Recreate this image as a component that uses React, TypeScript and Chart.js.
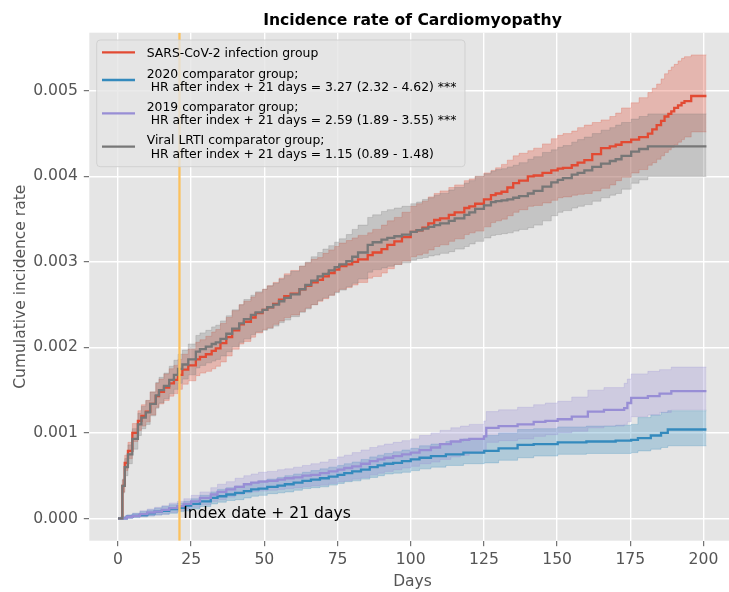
import React, { useEffect, useRef } from "react";
import { Chart, registerables } from "chart.js";

Chart.register(...registerables);

// ---------- data ----------
const TITLE = "Incidence rate of Cardiomyopathy";
const X_LABEL = "Days";
const Y_LABEL = "Cumulative incidence rate";
const X_TICKS = [0, 25, 50, 75, 100, 125, 150, 175, 200];
const Y_TICKS = [0, 0.001, 0.002, 0.003, 0.004, 0.005];
const INDEX_DAY = 21;
const ANNOT_TEXT = "Index date + 21 days";
const ANNOT_X = 22.3;
const ANNOT_Y = 0;

const LEGEND_LABELS = [
  ["SARS-CoV-2 infection group"],
  ["2020 comparator group;", " HR after index + 21 days = 3.27 (2.32 - 4.62) ***"],
  ["2019 comparator group;", " HR after index + 21 days = 2.59 (1.89 - 3.55) ***"],
  ["Viral LRTI comparator group;", " HR after index + 21 days = 1.15 (0.89 - 1.48)"],
];

// SARS-CoV-2 infection group
const sarsDays = [
  0, 1.5, 2.3, 3.4, 4.9, 6.8, 8, 9.5, 11, 12.9,
  14, 15.7, 17.5, 19.1, 20.5, 22, 24, 26.6, 28, 30,
  32, 33.4, 35, 37, 39, 41.4, 43, 45.4, 47, 49.4,
  51, 53, 55, 56.8, 59, 62, 64, 66, 68.2, 70,
  72, 74, 75.6, 78, 80, 82, 85.3, 87, 90, 92,
  94.4, 97, 100, 102, 104, 106, 108, 110, 113, 115,
  118.3, 120, 122, 125, 127.4, 129, 131, 133, 135, 137,
  140, 142, 145, 148, 150.2, 152, 155, 157, 159.3, 162,
  165, 168, 170, 172, 175.3, 178, 181, 182.5, 184, 185.5,
  186.7, 188, 189, 190, 191.3, 192.5, 193.5, 195.8, 201,
];
const sarsMid = [
  0, 0.00038, 0.00065, 0.00079, 0.001, 0.00114, 0.0012, 0.00125, 0.00134, 0.00143,
  0.00148, 0.00153, 0.00158, 0.00162, 0.00168, 0.00174, 0.00179, 0.00186, 0.00189, 0.00192,
  0.00196, 0.00199, 0.00205, 0.00212, 0.0022, 0.00227, 0.0023, 0.00235, 0.0024, 0.00244,
  0.00247, 0.00251, 0.00256, 0.0026, 0.00263, 0.00268, 0.00272, 0.00276, 0.00279, 0.00283,
  0.00287, 0.00291, 0.00295, 0.00297, 0.003, 0.00303, 0.00308, 0.00311, 0.00315, 0.0032,
  0.00324, 0.00329, 0.00335, 0.00337, 0.0034, 0.00345, 0.00349, 0.00351, 0.00355, 0.00358,
  0.00363, 0.00365, 0.00368, 0.00373, 0.00378, 0.0038, 0.00382, 0.00387, 0.00392, 0.00395,
  0.004, 0.00401, 0.00404, 0.00407, 0.00409, 0.0041, 0.00413, 0.00416, 0.00419, 0.00426,
  0.00433, 0.00435, 0.00437, 0.0044, 0.00443, 0.00446, 0.0045, 0.00455, 0.0046, 0.00465,
  0.0047, 0.00473, 0.00476, 0.0048, 0.00483, 0.00486, 0.00488, 0.00494, 0.00494,
];
const sarsHi = [
  0, 0.00045, 0.00074, 0.00089, 0.00111, 0.00126, 0.00133, 0.00138, 0.00148, 0.00158,
  0.00163, 0.00169, 0.00175, 0.00179, 0.00186, 0.00192, 0.00198, 0.00206, 0.00209, 0.00213,
  0.00218, 0.00221, 0.00228, 0.00235, 0.00243, 0.0025, 0.00254, 0.00259, 0.00264, 0.00268,
  0.00272, 0.00276, 0.00281, 0.00286, 0.0029, 0.00295, 0.00299, 0.00303, 0.00305, 0.0031,
  0.00314, 0.00318, 0.00322, 0.00325, 0.00328, 0.00331, 0.00334, 0.00338, 0.00343, 0.00348,
  0.00352, 0.00358, 0.00365, 0.00368, 0.00371, 0.00376, 0.0038, 0.00383, 0.00387, 0.0039,
  0.00395, 0.00397, 0.004, 0.00404, 0.00407, 0.0041, 0.00414, 0.00419, 0.00424, 0.00427,
  0.0043, 0.00433, 0.00438, 0.00444, 0.00448, 0.0045, 0.00453, 0.00457, 0.0046, 0.00463,
  0.00466, 0.0047, 0.00474, 0.0048, 0.00486, 0.00492, 0.00498, 0.00503, 0.00508, 0.00514,
  0.0052, 0.00524, 0.00528, 0.00531, 0.00535, 0.00538, 0.0054, 0.00542, 0.00542,
];
const sarsLo = [
  0, 0.00031, 0.00056, 0.0007, 0.0009, 0.00103, 0.00108, 0.00113, 0.00121, 0.0013,
  0.00134, 0.00138, 0.00143, 0.00146, 0.00151, 0.00157, 0.00161, 0.00167, 0.0017, 0.00172,
  0.00175, 0.00178, 0.00183, 0.0019, 0.00198, 0.00204, 0.00207, 0.00212, 0.00217, 0.00221,
  0.00223, 0.00227, 0.00231, 0.00235, 0.00238, 0.00242, 0.00246, 0.0025, 0.00254, 0.00257,
  0.00261, 0.00265, 0.00268, 0.0027, 0.00273, 0.00276, 0.00281, 0.00283, 0.00287, 0.00292,
  0.00297, 0.00301, 0.00306, 0.00308, 0.0031, 0.00314, 0.00318, 0.0032, 0.00324, 0.00327,
  0.00332, 0.00334, 0.00336, 0.00341, 0.00346, 0.00348, 0.0035, 0.00354, 0.00358, 0.00361,
  0.00365, 0.00366, 0.00369, 0.00372, 0.00375, 0.00376, 0.00378, 0.00379, 0.0038, 0.00383,
  0.00386, 0.0039, 0.00395, 0.00399, 0.00404, 0.00408, 0.00413, 0.00416, 0.0042, 0.00424,
  0.00428, 0.00431, 0.00434, 0.00437, 0.0044, 0.00443, 0.00446, 0.00452, 0.00452,
];

// 2020 comparator group
const c2020Days = [
  0, 1, 3, 5, 7.5, 10, 12.5, 15, 17.5, 20.3,
  22.5, 25, 28, 31.7, 34, 37, 40, 43, 45.5, 48,
  51, 54.5, 57, 60, 63, 65.9, 69, 72, 75, 77.3,
  80, 83, 86, 88.7, 91, 94, 97, 100, 103, 106.9,
  112, 118, 125.1, 130, 136.5, 142, 150.2, 160, 170, 175.3,
  177.6, 182, 185.5, 187.8, 201,
];
const c2020Mid = [
  0, 0, 0.00002, 0.00003, 0.00004, 0.00006, 0.00008, 0.00009, 0.00011, 0.000125,
  0.00015, 0.00017, 0.0002, 0.00024, 0.00026, 0.00028, 0.0003, 0.00032, 0.00034, 0.00035,
  0.00037, 0.000385, 0.0004, 0.00042, 0.00044, 0.000455, 0.00047, 0.00049, 0.00051, 0.00053,
  0.00055, 0.00057, 0.0006, 0.00062, 0.00064, 0.00065, 0.00067, 0.00069, 0.00071, 0.00073,
  0.00075, 0.00077, 0.00079, 0.00082, 0.00086, 0.00087, 0.00089, 0.0009, 0.00091, 0.00092,
  0.00094, 0.00097, 0.001, 0.00104, 0.00104,
];
const c2020Hi = [
  0, 0.00002, 0.00004, 0.00006, 0.00008, 0.0001, 0.00012, 0.00014, 0.00016, 0.00018,
  0.0002, 0.00023, 0.00027, 0.00031, 0.00034, 0.00036, 0.00038, 0.0004, 0.00042, 0.00044,
  0.00046, 0.00048, 0.0005, 0.00052, 0.00054, 0.00056, 0.00058, 0.0006, 0.00062, 0.00064,
  0.00066, 0.00069, 0.00072, 0.00074, 0.00076, 0.00078, 0.0008, 0.00082, 0.00085, 0.00087,
  0.0009, 0.00093, 0.00097, 0.001, 0.00104, 0.00105, 0.00107, 0.00108, 0.00109, 0.0011,
  0.00118, 0.00121, 0.00124, 0.00126, 0.00126,
];
const c2020Lo = [
  0, 0, 0, 0.00001, 0.00002, 0.00003, 0.00004, 0.00005, 0.00006, 0.00008,
  0.00009, 0.00011, 0.00014, 0.00017, 0.00019, 0.00021, 0.00022, 0.00024, 0.00026, 0.00027,
  0.00029, 0.0003, 0.00031, 0.00033, 0.00035, 0.00036, 0.00037, 0.00039, 0.00041, 0.00043,
  0.00044, 0.00046, 0.00048, 0.0005, 0.00052, 0.00053, 0.00054, 0.00056, 0.00058, 0.0006,
  0.00062, 0.00064, 0.00065, 0.00068, 0.00071, 0.00073, 0.00075, 0.00076, 0.00076, 0.00077,
  0.00079, 0.00081, 0.00083, 0.00085, 0.00085,
];

// 2019 comparator group
const c2019Days = [
  0, 1, 3, 5, 7.5, 10, 12.5, 15, 17.5, 20.3,
  22.5, 25, 28, 31.7, 34, 37, 40, 43, 45.5, 48,
  51, 54.5, 57, 60, 63, 65.9, 69, 72, 75, 77.3,
  80, 83, 86, 88.7, 91, 94, 97, 100, 103, 106.9,
  110, 113.7, 117, 120, 125, 125.8, 130, 136.5, 142, 146,
  150.2, 155, 160.5, 166, 172.9, 174, 175.3, 181, 185, 189,
  201,
];
const c2019Mid = [
  0, 0, 0.00002, 0.00003, 0.00005, 0.00007, 0.00008, 0.0001, 0.00012, 0.000144,
  0.00017, 0.0002, 0.00024, 0.00028, 0.00031, 0.00034, 0.00037, 0.0004, 0.00042, 0.00043,
  0.00044, 0.000455, 0.00047, 0.00048, 0.0005, 0.00051, 0.00053, 0.00055, 0.00057, 0.00059,
  0.00061, 0.00064, 0.00067, 0.00069, 0.00071, 0.00073, 0.00075, 0.00077, 0.0008, 0.00083,
  0.00087, 0.0009, 0.00092, 0.00093, 0.00096, 0.00106, 0.00108, 0.0011, 0.00113, 0.00114,
  0.00116, 0.00119, 0.00125, 0.00127, 0.00129, 0.00135, 0.00141, 0.00143, 0.00146, 0.00149,
  0.00149,
];
const c2019Hi = [
  0, 0.00002, 0.00004, 0.00006, 0.00009, 0.00011, 0.00013, 0.00015, 0.00018, 0.0002,
  0.00023, 0.00027, 0.00031, 0.00036, 0.0004, 0.00043, 0.00047, 0.0005, 0.00052, 0.00054,
  0.00055, 0.00057, 0.00058, 0.0006, 0.00062, 0.00064, 0.00066, 0.00069, 0.00072, 0.00074,
  0.00077, 0.0008, 0.00083, 0.00085, 0.00087, 0.00089, 0.00091, 0.00093, 0.00097, 0.001,
  0.00103, 0.00106, 0.00108, 0.0011, 0.00114, 0.00125, 0.00127, 0.0013, 0.00133, 0.00135,
  0.00137, 0.00142, 0.0015, 0.00153, 0.00158, 0.00163, 0.00169, 0.00172, 0.00174, 0.00177,
  0.00177,
];
const c2019Lo = [
  0, 0, 0, 0.00001, 0.00002, 0.00003, 0.00004, 0.00005, 0.00007, 0.00009,
  0.00011, 0.00013, 0.00016, 0.0002, 0.00022, 0.00025, 0.00028, 0.0003, 0.00031, 0.00032,
  0.00033, 0.00034, 0.00035, 0.00036, 0.00037, 0.00038, 0.00039, 0.00041, 0.00043, 0.00044,
  0.00046, 0.00048, 0.00051, 0.00053, 0.00055, 0.00057, 0.00059, 0.00061, 0.00064, 0.00066,
  0.00069, 0.00072, 0.00074, 0.00076, 0.00079, 0.00089, 0.00091, 0.00093, 0.00096, 0.00098,
  0.001, 0.00102, 0.00106, 0.00108, 0.0011, 0.00113, 0.00119, 0.00121, 0.00124, 0.00127,
  0.00127,
];

// Viral LRTI comparator group
const lrtiDays = [
  0, 1.5, 2.3, 3.4, 4.9, 6.8, 8, 9.5, 11, 12.9,
  14, 15.7, 17.5, 19.1, 20.5, 22, 24, 26.6, 28, 30,
  32, 33.4, 35, 37, 39, 41.4, 43, 45.4, 47, 49.4,
  51, 53, 55, 56.8, 59, 62, 64, 66, 68.2, 70,
  72, 74, 75.6, 78, 80, 82, 85.3, 87, 90, 92,
  94.4, 97, 100, 102, 104, 106, 108, 110, 113, 115,
  118.3, 120, 122, 125, 127.4, 129, 131, 133, 135, 137,
  140, 142, 145, 148, 150.2, 152, 155, 157, 159.3, 162,
  165, 168, 170, 172, 175.3, 178, 181, 201,
];
const lrtiMid = [
  0, 0.00038, 0.0006, 0.00075, 0.00093, 0.0011, 0.00118, 0.00124, 0.00134, 0.00144,
  0.0015, 0.00155, 0.00162, 0.00168, 0.00175, 0.0018, 0.00186, 0.00195, 0.00198, 0.00201,
  0.00204, 0.00206, 0.0021, 0.00216, 0.00222, 0.00228, 0.00233, 0.00238, 0.00241, 0.00244,
  0.00247, 0.0025, 0.00254, 0.00258, 0.00262, 0.00268, 0.00273, 0.00278, 0.00283, 0.00286,
  0.0029, 0.00294, 0.00297, 0.00301, 0.00306, 0.00311, 0.0032, 0.00323, 0.00326, 0.00328,
  0.0033, 0.00332, 0.00335, 0.00337, 0.00339, 0.00341, 0.00343, 0.00345, 0.00348, 0.00351,
  0.00355, 0.00358, 0.00362, 0.00366, 0.0037, 0.00371, 0.00372, 0.00373, 0.00375, 0.00377,
  0.0038, 0.00383, 0.00388, 0.00393, 0.00396, 0.00398, 0.00402, 0.00404, 0.00407, 0.00411,
  0.00415, 0.00418, 0.0042, 0.00424, 0.00429, 0.00432, 0.00435, 0.00435,
];
const lrtiHi = [
  0, 0.00046, 0.0007, 0.00086, 0.00105, 0.00123, 0.00131, 0.00138, 0.00148, 0.00159,
  0.00165, 0.0017, 0.00178, 0.00185, 0.00192, 0.00197, 0.00204, 0.00214, 0.00217, 0.0022,
  0.00224, 0.00226, 0.00231, 0.00237, 0.00244, 0.0025, 0.00256, 0.00261, 0.00265, 0.00268,
  0.00272, 0.00275, 0.0028, 0.00284, 0.00289, 0.00295, 0.003, 0.00306, 0.00311, 0.00315,
  0.00319, 0.00323, 0.00327, 0.00332, 0.00338, 0.00343, 0.00352, 0.00355, 0.00359, 0.00361,
  0.00363, 0.00365, 0.00368, 0.0037, 0.00373, 0.00375, 0.00378, 0.0038, 0.00384, 0.00387,
  0.00392, 0.00395, 0.004, 0.00403, 0.00406, 0.00408, 0.00409, 0.00411, 0.00413, 0.00416,
  0.0042, 0.00423, 0.00428, 0.00431, 0.00434, 0.00436, 0.0044, 0.00443, 0.00446, 0.0045,
  0.00454, 0.00457, 0.0046, 0.00463, 0.00467, 0.0047, 0.00473, 0.00473,
];
const lrtiLo = [
  0, 0.0003, 0.0005, 0.00064, 0.00081, 0.00097, 0.00105, 0.0011, 0.0012, 0.00129,
  0.00135, 0.0014, 0.00146, 0.00151, 0.00158, 0.00163, 0.00168, 0.00176, 0.00179, 0.00182,
  0.00184, 0.00186, 0.0019, 0.00195, 0.00201, 0.00206, 0.0021, 0.00215, 0.00218, 0.0022,
  0.00222, 0.00225, 0.00229, 0.00232, 0.00236, 0.00241, 0.00245, 0.0025, 0.00255, 0.00258,
  0.00261, 0.00264, 0.00267, 0.00271, 0.00275, 0.0028, 0.00288, 0.00291, 0.00293, 0.00295,
  0.00297, 0.00299, 0.00302, 0.00304, 0.00305, 0.00307, 0.00308, 0.0031, 0.00312, 0.00315,
  0.00318, 0.00321, 0.00324, 0.00328, 0.00331, 0.00332, 0.00333, 0.00334, 0.00336, 0.00338,
  0.0034, 0.00343, 0.00348, 0.00354, 0.00358, 0.0036, 0.00363, 0.00365, 0.00367, 0.00371,
  0.00375, 0.00378, 0.0038, 0.00385, 0.00392, 0.00396, 0.004, 0.004,
];

// ---------- styling ----------
const FAM = "'DejaVu Sans', sans-serif";
const RED = "#E24A33";
const BLUE = "#348ABD";
const PURPLE = "#988ED5";
const GREY = "#777777";
const ORANGE = "#FBC15E";
const LEGEND_COLORS = [RED, BLUE, PURPLE, GREY];

function rgba(hex: string, a: number) {
  const n = parseInt(hex.slice(1), 16);
  return `rgba(${(n >> 16) & 255},${(n >> 8) & 255},${n & 255},${a})`;
}

function pts(xs: number[], ys: number[]) {
  return xs.map((x, i) => ({ x, y: ys[i] }));
}

function bandSets(days: number[], lo: number[], hi: number[], color: string, order: number) {
  return [
    {
      data: pts(days, lo),
      borderColor: rgba(color, 0.3),
      borderWidth: 0.8,
      backgroundColor: "transparent",
      fill: false,
      stepped: true,
      pointRadius: 0,
      order: order,
    },
    {
      data: pts(days, hi),
      borderColor: rgba(color, 0.3),
      borderWidth: 0.8,
      backgroundColor: rgba(color, 0.3),
      fill: "-1",
      stepped: true,
      pointRadius: 0,
      order: order - 1,
    },
  ];
}

function lineSet(days: number[], mid: number[], color: string, order: number) {
  return {
    data: pts(days, mid),
    borderColor: color,
    borderWidth: 2.3,
    backgroundColor: color,
    fill: false,
    stepped: true,
    pointRadius: 0,
    order: order,
  };
}

const decor = {
  id: "decor",
  beforeDraw(chart: any) {
    const { ctx, chartArea: a } = chart;
    ctx.save();
    ctx.fillStyle = "#ffffff";
    ctx.fillRect(0, 0, chart.width, chart.height);
    ctx.fillStyle = "#E5E5E5";
    ctx.fillRect(a.left, a.top, a.right - a.left, a.bottom - a.top);
    ctx.restore();
  },
  afterDatasetsDraw(chart: any) {
    const { ctx, chartArea: a, scales } = chart;
    const x = scales.x;
    const y = scales.y;
    ctx.save();
    ctx.beginPath();
    ctx.rect(a.left, a.top, a.right - a.left, a.bottom - a.top);
    ctx.clip();
    const vx = x.getPixelForValue(INDEX_DAY);
    ctx.strokeStyle = ORANGE;
    ctx.lineWidth = 2.3;
    ctx.beginPath();
    ctx.moveTo(vx, a.top);
    ctx.lineTo(vx, a.bottom);
    ctx.stroke();
    ctx.fillStyle = "#000";
    ctx.font = `15.6px ${FAM}`;
    ctx.textAlign = "left";
    ctx.textBaseline = "alphabetic";
    ctx.fillText(ANNOT_TEXT, x.getPixelForValue(ANNOT_X), y.getPixelForValue(ANNOT_Y));

    // legend
    const lx = a.left + 7.4;
    const ly = a.top + 7.3;
    const lw = 368.3;
    const lh = 126.7;
    ctx.beginPath();
    ctx.roundRect(lx, ly, lw, lh, 3.5);
    ctx.fillStyle = "rgba(229,229,229,0.8)";
    ctx.fill();
    ctx.strokeStyle = "rgba(204,204,204,0.8)";
    ctx.lineWidth = 1;
    ctx.stroke();
    const rowY = [ly + 12.3, ly + 40, ly + 73.3, ly + 106.7];
    ctx.font = `12.4px ${FAM}`;
    ctx.textBaseline = "middle";
    LEGEND_LABELS.forEach((lines, i) => {
      const cy = rowY[i];
      ctx.strokeStyle = LEGEND_COLORS[i];
      ctx.lineWidth = 2.3;
      ctx.beginPath();
      ctx.moveTo(lx + 5.3, cy);
      ctx.lineTo(lx + 38.3, cy);
      ctx.stroke();
      ctx.fillStyle = "#000";
      if (lines.length === 1) {
        ctx.fillText(lines[0], lx + 50, cy + 1);
      } else {
        ctx.fillText(lines[0], lx + 50, cy - 6.7 + 1);
        ctx.fillText(lines[1], lx + 50, cy + 6.7 + 1);
      }
    });
    ctx.restore();
  },
  afterDraw(chart: any) {
    const { ctx, chartArea: a } = chart;
    const cx = (a.left + a.right) / 2;
    ctx.save();
    ctx.fillStyle = "#000";
    ctx.font = `bold 15.6px ${FAM}`;
    ctx.textAlign = "center";
    ctx.textBaseline = "alphabetic";
    ctx.fillText(TITLE, cx, 25);
    ctx.fillStyle = "#555555";
    ctx.font = `15.5px ${FAM}`;
    ctx.fillText(X_LABEL, cx, 586);
    ctx.translate(25, (a.top + a.bottom) / 2);
    ctx.rotate(-Math.PI / 2);
    ctx.fillText(Y_LABEL, 0, 0);
    ctx.restore();
  },
};

export default function App() {
  const ref = useRef<HTMLCanvasElement>(null);
  useEffect(() => {
    if (!ref.current) return;
    const datasets: any[] = [
      ...bandSets(sarsDays, sarsLo, sarsHi, RED, 100),
      ...bandSets(c2020Days, c2020Lo, c2020Hi, BLUE, 98),
      ...bandSets(c2019Days, c2019Lo, c2019Hi, PURPLE, 96),
      ...bandSets(lrtiDays, lrtiLo, lrtiHi, GREY, 94),
      lineSet(sarsDays, sarsMid, RED, 10),
      lineSet(c2020Days, c2020Mid, BLUE, 9),
      lineSet(c2019Days, c2019Mid, PURPLE, 8),
      lineSet(lrtiDays, lrtiMid, GREY, 7),
    ];
    const tickFont = { family: FAM, size: 15.6 };
    const chart = new Chart(ref.current, {
      type: "line",
      data: { datasets },
      options: {
        responsive: false,
        animation: false,
        layout: { padding: { left: 0, top: 32.7, right: 1.3, bottom: 0 } },
        plugins: {
          legend: { display: false },
          tooltip: { enabled: false },
          title: { display: false },
        },
        elements: { point: { radius: 0 } },
        scales: {
          x: {
            type: "linear",
            min: -9.8,
            max: 211,
            afterBuildTicks: (s: any) => {
              s.ticks = X_TICKS.map((v) => ({ value: v }));
            },
            afterFit: (s: any) => {
              s.height = 51.3;
            },
            grid: { color: "#ffffff", lineWidth: 1.4, tickColor: "#555555", tickLength: 5.5, tickWidth: 1 },
            border: { display: false },
            ticks: {
              color: "#555555",
              font: tickFont,
              padding: 4,
              maxRotation: 0,
              autoSkip: false,
              callback: (v: any) => String(v),
            },
          },
          y: {
            type: "linear",
            min: -0.00026,
            max: 0.00568,
            afterBuildTicks: (s: any) => {
              s.ticks = Y_TICKS.map((v) => ({ value: v }));
            },
            afterFit: (s: any) => {
              s.width = 89.3;
            },
            grid: { color: "#ffffff", lineWidth: 1.4, tickColor: "#555555", tickLength: 5.5, tickWidth: 1 },
            border: { display: false },
            ticks: {
              color: "#555555",
              font: tickFont,
              padding: 6,
              autoSkip: false,
              callback: (v: any) => Number(v).toFixed(3),
            },
          },
        },
      },
      plugins: [decor],
    } as any);
    return () => chart.destroy();
  }, []);
  return (
    <div
      style={{
        position: "fixed",
        left: 0,
        top: 0,
        width: 729,
        height: 592,
        overflow: "hidden",
        background: "#ffffff",
      }}
    >
      <canvas ref={ref} width={737} height={592} style={{ width: 737, height: 592, display: "block" }} />
    </div>
  );
}
